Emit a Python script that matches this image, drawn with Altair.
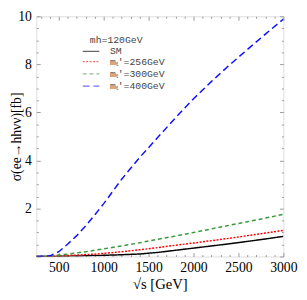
import altair as alt
import pandas as pd

energy = [250, 400, 500, 600, 700, 800, 900, 1000, 1200, 1400, 1600, 1800, 2000, 2200, 2400, 2600, 2800, 3000]
sm     = [0, 0.0, 0.01, 0.015, 0.02, 0.03, 0.04, 0.05, 0.075, 0.105, 0.17, 0.26, 0.35, 0.44, 0.53, 0.63, 0.73, 0.84]
mt256  = [0, 0.005, 0.02, 0.04, 0.06, 0.08, 0.10, 0.13, 0.20, 0.28, 0.37, 0.47, 0.56, 0.66, 0.76, 0.87, 0.98, 1.09]
mt300  = [0, 0.02, 0.06, 0.10, 0.15, 0.20, 0.26, 0.32, 0.44, 0.57, 0.72, 0.85, 1.0, 1.15, 1.30, 1.45, 1.60, 1.76]
mt400  = [0, 0.03, 0.20, 0.52, 0.87, 1.28, 1.73, 2.2, 3.22, 4.12, 4.95, 5.78, 6.57, 7.29, 7.97, 8.62, 9.26, 9.88]

series_names = ["SM", "mₜ′=256GeV", "mₜ′=300GeV", "mₜ′=400GeV"]
series_vals = [sm, mt256, mt300, mt400]
colors = ["#000000", "#ff0000", "#3a9a3a", "#1010ff"]
dashes = [[1, 0], [2, 1.5], [4, 3], [7, 4]]
widths = [1.5, 1.5, 1.6, 2.0]

legend_title = "mh=120GeV"
legend_title_at = [1139, 9.02]       # (energy, sigma) where the legend title sits
legend_rows_sigma = [8.54, 8.11, 7.6, 7.09]
legend_line_E = [767, 951]
legend_text_E = 1069

x_major = [500, 1000, 1500, 2000, 2500, 3000]
x_minor = [300, 400, 600, 700, 800, 900, 1100, 1200, 1300, 1400, 1600, 1700, 1800, 1900,
           2100, 2200, 2300, 2400, 2600, 2700, 2800, 2900]
y_major = [0, 2, 4, 6, 8, 10]
y_labels = [2, 4, 6, 8, 10]
y_minor = [0.5, 1, 1.5, 2.5, 3, 3.5, 4.5, 5, 5.5, 6.5, 7, 7.5, 8.5, 9, 9.5]

W, H = 253, 246

rows = []
for name, vals in zip(series_names, series_vals):
    for e, v in zip(energy, vals):
        rows.append({"E": e, "sigma": v, "series": name})
df = pd.DataFrame(rows)

xs = alt.Scale(domain=[250, 3000], nice=False, zero=False)
ys = alt.Scale(domain=[0, 10], nice=False)

serif = "Liberation Serif"

main = alt.Chart(df).mark_line(clip=True).encode(
    x=alt.X("E:Q", scale=xs, axis=alt.Axis(orient="bottom", values=x_major, ticks=False, domain=False,
                                          grid=False, labelFont=serif, labelFontSize=14, labelColor="#000",
                                          labelPadding=4, labelOverlap=False, labelFlush=False, format="d",
                                          title="√s [GeV]", titleFont=serif,
                                          titleFontSize=15, titleFontWeight="normal", titleColor="#000",
                                          titlePadding=3)),
    y=alt.Y("sigma:Q", scale=ys, axis=alt.Axis(orient="left", values=y_labels, ticks=False, domain=False,
                                              grid=False, labelFont=serif, labelFontSize=14, labelColor="#000",
                                              labelPadding=5, labelOverlap=False, labelFlush=False,
                                              title="σ(ee→hhνν)[fb]", titleFont=serif,
                                              titleFontSize=14, titleFontWeight="normal", titleColor="#000",
                                              titleX=-20, titleY=H / 2, titleAngle=-90,
                                              titleAlign="center", titleBaseline="middle")),
    color=alt.Color("series:N", scale=alt.Scale(domain=series_names, range=colors), legend=None),
    strokeDash=alt.StrokeDash("series:N", scale=alt.Scale(domain=series_names, range=dashes), legend=None),
    strokeWidth=alt.StrokeWidth("series:N", scale=alt.Scale(domain=series_names, range=widths), legend=None),
    detail="series:N",
)


def tick_layer(xorient, yorient, xvals, yvals, size):
    common = dict(labels=False, domain=False, grid=False, ticks=True, tickSize=size,
                  tickColor="#999", tickWidth=1, title=None)
    return alt.Chart(df).mark_point(opacity=0).encode(
        x=alt.X("E:Q", scale=xs, axis=alt.Axis(orient=xorient, offset=-H, values=xvals, **common)),
        y=alt.Y("sigma:Q", scale=ys, axis=alt.Axis(orient=yorient, offset=-W, values=yvals, **common)),
    )


t1 = tick_layer("top", "right", x_major, y_major, 4)
t2 = tick_layer("bottom", "left", x_major, y_major, 4)
t3 = tick_layer("top", "right", x_minor, y_minor, 2)
t4 = tick_layer("bottom", "left", x_minor, y_minor, 2)

# legend (placed through the chart's own scales)
mono = "Liberation Mono"
title_df = pd.DataFrame({"t": [legend_title], "E": [legend_title_at[0]], "sigma": [legend_title_at[1]]})
leg_title = alt.Chart(title_df).mark_text(
    font=mono, fontSize=10, color="#444", align="center", baseline="middle").encode(
    text="t:N", x=alt.X("E:Q", scale=xs, axis=None), y=alt.Y("sigma:Q", scale=ys, axis=None))

leg_df = pd.DataFrame({
    "t": series_names,
    "E1": [legend_line_E[0]] * 4,
    "E2": [legend_line_E[1]] * 4,
    "Et": [legend_text_E] * 4,
    "sigma": legend_rows_sigma,
})
leg_lines = alt.Chart(leg_df).mark_rule(strokeWidth=1.2, opacity=0.6).encode(
    x=alt.X("E1:Q", scale=xs, axis=None), x2="E2:Q",
    y=alt.Y("sigma:Q", scale=ys, axis=None),
    color=alt.Color("t:N", scale=alt.Scale(domain=series_names, range=colors), legend=None),
    strokeDash=alt.StrokeDash("t:N", scale=alt.Scale(domain=series_names, range=dashes), legend=None),
)
leg_text = alt.Chart(leg_df).mark_text(
    font=mono, fontSize=10, color="#444", align="left", baseline="middle").encode(
    text="t:N", x=alt.X("Et:Q", scale=xs, axis=None), y=alt.Y("sigma:Q", scale=ys, axis=None))

chart = alt.layer(main, t1, t2, t3, t4, leg_title, leg_lines, leg_text).resolve_scale(
    x="shared", y="shared").resolve_axis(x="independent", y="independent").properties(
    width=W, height=H,
    padding={"left": 29, "top": 5, "right": 16, "bottom": 40},
    autosize=alt.AutoSizeParams(type="none"),
).configure_view(stroke="#999", strokeWidth=1).configure(background="white")

chart.save("out.html", embed_options={"renderer": "svg", "actions": False})
